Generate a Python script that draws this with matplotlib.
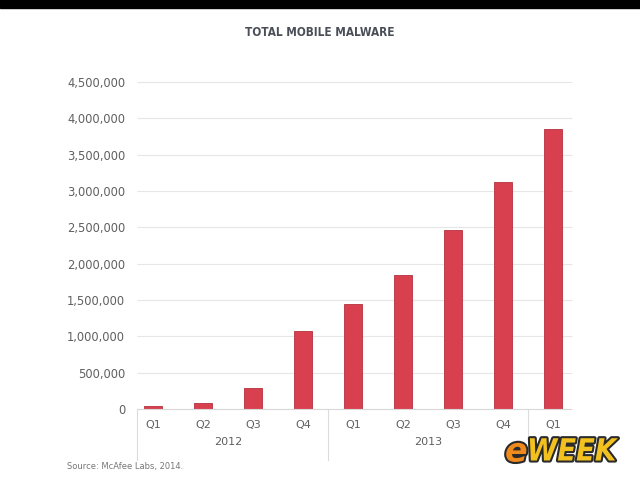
import matplotlib
matplotlib.use("Agg")
import matplotlib.pyplot as plt
import matplotlib.patheffects as pe
from matplotlib.ticker import FuncFormatter
from matplotlib.transforms import blended_transform_factory

# values (total mobile malware samples)
quarters = ["Q1", "Q2", "Q3", "Q4", "Q1", "Q2", "Q3", "Q4", "Q1"]
years = ["2012", "2013"]
malware = [40000, 85000, 285000, 1080000, 1450000, 1850000, 2460000, 3120000, 3860000]
yticks = [0, 500000, 1000000, 1500000, 2000000, 2500000, 3000000, 3500000, 4000000, 4500000]

BAR = "#d9404f"
EDGE = "#b3303d"
GRID = "#e6e6e6"
TXT = "#606060"

fig = plt.figure(figsize=(6.4, 4.8), dpi=100)
fig.patch.set_facecolor("white")
# black strip along the top of the screenshot
fig.add_artist(plt.Rectangle((0, 1 - 8 / 480), 1, 8 / 480, transform=fig.transFigure,
                             color="black", zorder=0))

ax = fig.add_axes([128 / 640, 1 - 409 / 480, 450 / 640, 327 / 480])
x = list(range(len(quarters)))
ax.bar(x, malware, width=0.36, color=BAR, edgecolor=EDGE, linewidth=0.6, zorder=3)

ax.set_xlim(-0.5, len(quarters) - 0.5)
ax.set_ylim(0, 4500000)
ax.set_yticks(yticks)
ax.yaxis.set_major_formatter(FuncFormatter(lambda v, p: f"{int(v):,}"))
ax.tick_params(axis="y", length=0, pad=2, labelsize=8.3, labelcolor=TXT)
ax.set_xticks([])
for s in ax.spines.values():
    s.set_visible(False)

# grid lines start a little right of the plot edge, like the original
x0, x1 = -0.32, len(quarters) - 0.62
ax.hlines(yticks[1:], x0, x1, color=GRID, linewidth=0.8, zorder=0, clip_on=False)
ax.hlines(0, x0, x1, color="#d8d8d8", linewidth=0.8, zorder=4, clip_on=False)

# two-level category axis: quarters then years
tr = blended_transform_factory(ax.transData, ax.transAxes)
for i, q in enumerate(quarters):
    ax.text(i, -0.049, q, transform=tr, ha="center", va="center", fontsize=8, color=TXT)
ax.text(1.5, -0.10, years[0], transform=tr, ha="center", va="center", fontsize=8, color=TXT)
ax.text(5.5, -0.10, years[1], transform=tr, ha="center", va="center", fontsize=8, color=TXT)
for xs, depth in [(x0, -0.156), (3.5, -0.156), (7.5, -0.10)]:
    ax.plot([xs, xs], [0, depth], transform=tr, color="#dcdcdc", linewidth=0.8, clip_on=False)

fig.text(0.5, 1 - 32 / 480, "TOTAL MOBILE MALWARE", ha="center", va="center",
         fontsize=8.5, fontweight="bold", fontstretch="condensed", color="#4a4f57",
         family="DejaVu Sans")
fig.text(67 / 640, 1 - 467 / 480, "Source: McAfee Labs, 2014.", ha="left", va="center",
         fontsize=6, color="#777777")

# eWEEK watermark
stroke = [pe.withStroke(linewidth=3, foreground="#2a2a2a")]
fig.text(505 / 640, 1 - 452 / 480, "e", ha="left", va="center", fontsize=24, fontweight="bold",
         style="italic", color="#f08a1c", path_effects=stroke)
fig.text(527 / 640, 1 - 452 / 480, "WEEK", ha="left", va="center", fontsize=22, fontweight="bold",
         style="italic", fontstretch="condensed", color="#f3c11f", path_effects=stroke)

fig.savefig("out.png", dpi=100)
